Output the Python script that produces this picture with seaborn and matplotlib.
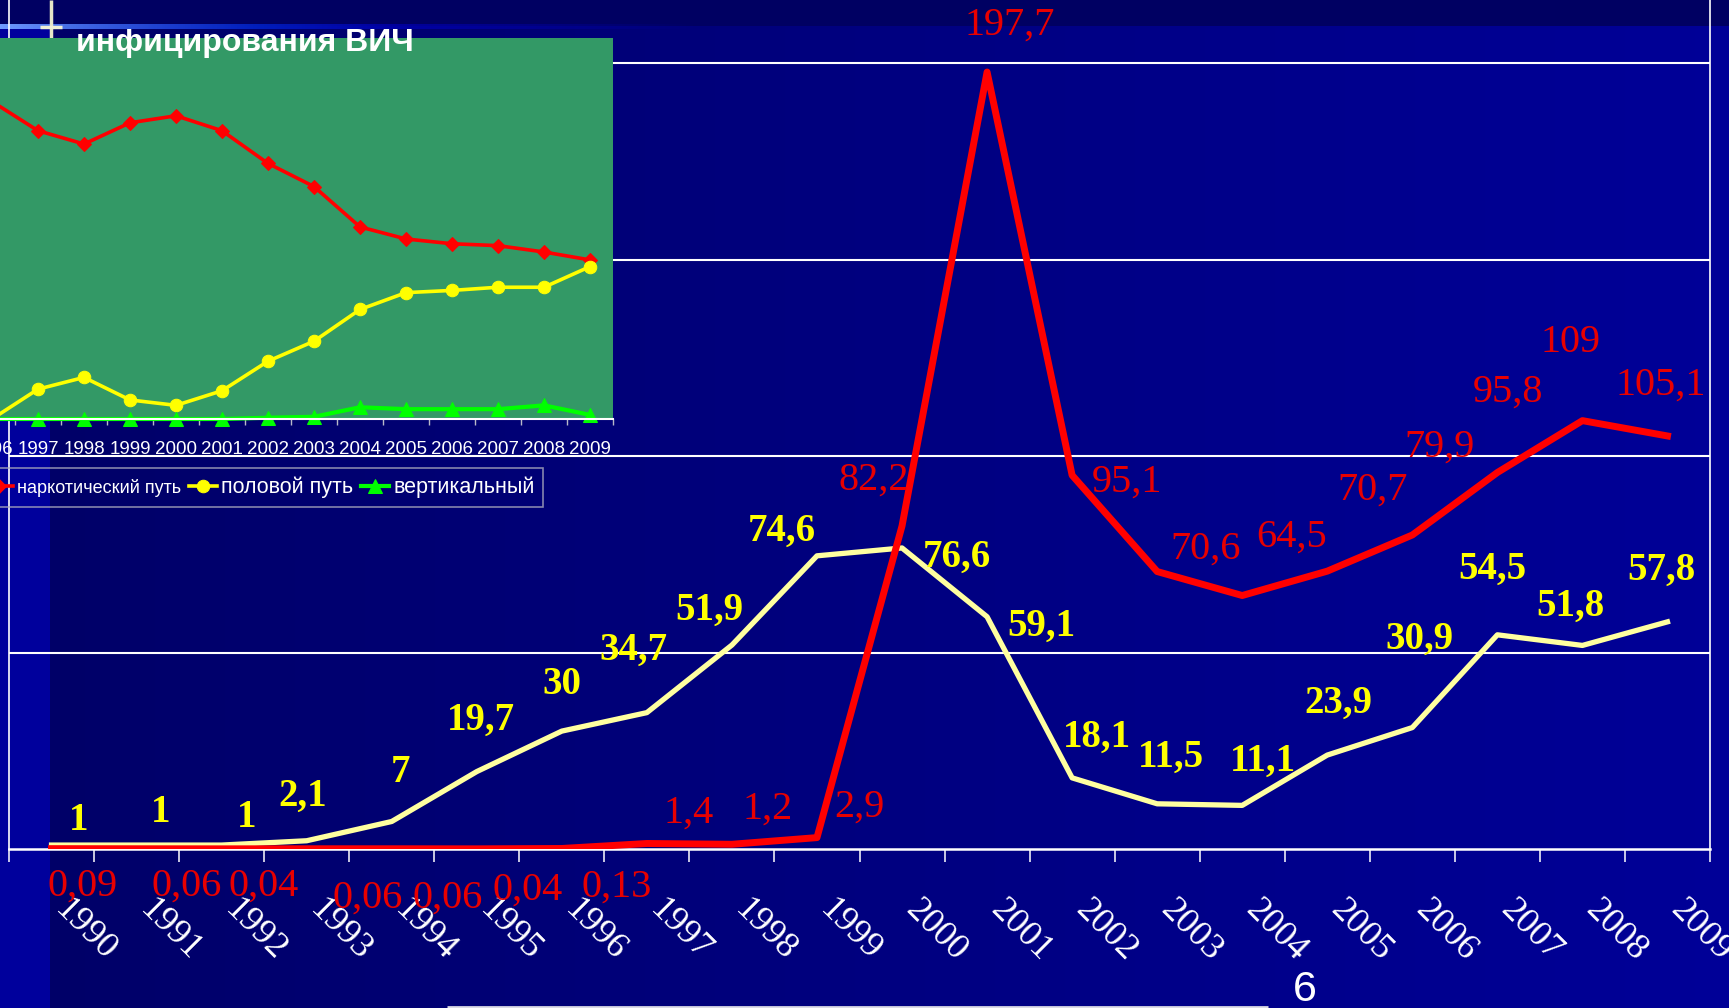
import numpy as np
import matplotlib
matplotlib.use("Agg")
import matplotlib.pyplot as plt
import seaborn as sns
from matplotlib.patches import Rectangle
from matplotlib.transforms import ScaledTranslation

# ---- main chart: incidence per 100 000 by route of transmission ----
years = [str(y) for y in range(1990, 2010)]
drug_rate = [0.09, 0.06, 0.04, 0.06, 0.06, 0.04, 0.13, 1.4, 1.2, 2.9,
             82.2, 197.7, 95.1, 70.6, 64.5, 70.7, 79.9, 95.8, 109, 105.1]
sexual_rate = [1, 1, 1, 2.1, 7, 19.7, 30, 34.7, 51.9, 74.6,
               76.6, 59.1, 18.1, 11.5, 11.1, 23.9, 30.9, 54.5, 51.8, 57.8]

# ---- inset: share of each route, % ----
share_years = [str(y) for y in range(1996, 2010)]
share_drug = [100, 90.8, 86.6, 93.3, 95.5, 90.8, 80.5, 73.2, 60.5, 56.7, 55.2, 54.6, 52.6, 50.1]
share_sexual = [0, 9.4, 13.1, 6.0, 4.3, 8.9, 18.2, 24.5, 34.5, 39.8, 40.5, 41.5, 41.5, 48.0]
share_vertical = [0, 0, 0, 0, 0, 0, 0.4, 0.7, 3.7, 3.1, 3.1, 3.1, 4.3, 1.3]
legend_labels = ["наркотический путь", "половой путь", "вертикальный"]

title_text = "инфицирования ВИЧ"
page_number = "6"

# label offsets in pixels (dx to the right, dy downward)
drug_offsets = [(31, 37), (50, 37), (42, 37), (61, 49), (56, 49), (51, 41), (55, 39),
                (42, -30), (36, -35), (42, -30), (-28, -46), (23, -47), (55, 7),
                (48, -22), (49, -58), (45, -81), (27, -88), (11, -80), (-12, -78), (-7, -51)]
sexual_offsets = [(27, -25), (24, -33), (25, -28), (-4, -44), (9, -49), (4, -51), (0, -47),
                  (-13, -62), (-23, -35), (-35, -24), (55, 9), (54, 10), (25, -41),
                  (14, -46), (21, -44), (11, -52), (7, -88), (-5, -65), (-12, -39), (-6, -52)]

W, H, DPI = 1729, 1008, 100
fig = plt.figure(figsize=(W / DPI, H / DPI), dpi=DPI)


def fx(px):
    return px / W


def fy(py):
    return 1 - py / H


def fmt(v):
    return f"{v:g}".replace(".", ",")


# ---- slide background ----
ax_bg = fig.add_axes([0, 0, 1, 1], zorder=-10)
ax_bg.set_xlim(0, W)
ax_bg.set_ylim(H, 0)
ax_bg.axis("off")
cols = np.arange(W)
blue = np.clip(104 + (cols - 50) / (W - 50) * 48, 104, 152) / 255
blue[cols < 50] = 156 / 255
grad = np.zeros((2, W, 3))
grad[..., 2] = blue
ax_bg.imshow(grad, extent=[0, W, H, 0], aspect="auto", interpolation="nearest", zorder=0)
ax_bg.add_patch(Rectangle((0, 0), W, 26, color=(0, 0, 98 / 255), zorder=1, lw=0))
# glowing horizontal stripe under the header
strip = np.zeros((1, 700, 4))
t = np.linspace(0, 1, 700)
strip[0, :, 0] = np.clip(0.45 - t * 1.2, 0, 1)
strip[0, :, 1] = np.clip(0.62 - t * 1.1, 0, 1)
strip[0, :, 2] = 1.0
strip[0, :, 3] = np.clip(1.0 - t ** 0.8, 0, 1)
ax_bg.imshow(strip, extent=[0, 700, 29, 24], aspect="auto", interpolation="bilinear", zorder=2)
ax_bg.plot([51, 51], [0, 38], color="#E6E6C8", lw=2.5, zorder=3, solid_capstyle="butt")
ax_bg.plot([40, 62], [26.5, 26.5], color="#F0F0D6", lw=2.5, zorder=3, solid_capstyle="butt")
ax_bg.plot([447, 1268], [1006.5, 1006.5], color="#DADAE6", lw=2, zorder=3, solid_capstyle="butt")

# ---- main axes ----
ax = fig.add_axes([fx(9), fy(849), fx(1710 - 9), 849 / H], zorder=1)
ax.set_facecolor("none")
pos = np.arange(len(years))
sns.lineplot(x=pos, y=sexual_rate, ax=ax, color="#FFFFA0", lw=3.8, errorbar=None,
             sort=False, zorder=3)
sns.lineplot(x=pos, y=drug_rate, ax=ax, color="#FF0000", lw=5, errorbar=None,
             sort=False, zorder=4)
ax.set_xlim(-0.5, len(years) - 0.5)
ax.set_ylim(0, 849 / 3.93)
ax.set_yticks([50, 100, 150, 200])
ax.yaxis.grid(True, color="white", lw=1.5)
ax.xaxis.grid(False)
ax.tick_params(axis="y", length=0, labelleft=False)
ax.set_xlabel("")
ax.set_ylabel("")
ax.spines["top"].set_visible(False)
for side in ["left", "right"]:
    ax.spines[side].set_color("white")
    ax.spines[side].set_linewidth(1.2)
ax.spines["bottom"].set_color("white")
ax.spines["bottom"].set_linewidth(1.8)

ax.set_xticks(pos)
ax.set_xticklabels(years)
ax.set_xticks(np.arange(len(years) + 1) - 0.5, minor=True)
ax.tick_params(axis="x", which="major", length=0, pad=40)
ax.tick_params(axis="x", which="minor", length=9.4, width=1.1, color="white", direction="out")
shift = ScaledTranslation(8 / DPI, 0, fig.dpi_scale_trans)
for lbl in ax.get_xticklabels():
    lbl.set_rotation(-45)
    lbl.set_rotation_mode("anchor")
    lbl.set_ha("left")
    lbl.set_va("center")
    lbl.set_fontsize(26)
    lbl.set_family("Liberation Serif")
    lbl.set_color("white")
    lbl.set_transform(lbl.get_transform() + shift)

for i, v in enumerate(sexual_rate):
    dx, dy = sexual_offsets[i]
    ax.annotate(fmt(v), (i, v), xytext=(dx, -dy), textcoords="offset pixels",
                ha="center", va="center", fontsize=28, fontweight="bold",
                family="Liberation Serif", color="#FFFF00", zorder=6,
                annotation_clip=False)
for i, v in enumerate(drug_rate):
    dx, dy = drug_offsets[i]
    ax.annotate(fmt(v), (i, v), xytext=(dx, -dy), textcoords="offset pixels",
                ha="center", va="center", fontsize=29,
                family="Liberation Serif", color="#E80000", zorder=6,
                annotation_clip=False)

# ---- inset: structure of transmission routes ----
ax_in = fig.add_axes([fx(-31), fy(419), 644 / W, 381 / H], zorder=5)
ax_in.set_facecolor("#339966")
ipos = np.arange(len(share_years))
sns.lineplot(x=ipos, y=share_drug, ax=ax_in, color="#FF0000", lw=2.6, marker="D",
             markersize=7.5, markeredgecolor="#FF0000", errorbar=None, sort=False,
             label=legend_labels[0], clip_on=False)
sns.lineplot(x=ipos, y=share_sexual, ax=ax_in, color="#FFFF00", lw=2.6, marker="o",
             markersize=9, markeredgecolor="#FFFF00", errorbar=None, sort=False,
             label=legend_labels[1], clip_on=False)
sns.lineplot(x=ipos, y=share_vertical, ax=ax_in, color="#00FF00", lw=3, marker="^",
             markersize=9.5, markeredgecolor="#00FF00", errorbar=None, sort=False,
             label=legend_labels[2], clip_on=False)
ax_in.set_xlim(-0.5, len(share_years) - 0.5)
ax_in.set_ylim(0, 120)
ax_in.set_xlabel("")
ax_in.set_ylabel("")
ax_in.grid(False)
for side in ["top", "left", "right"]:
    ax_in.spines[side].set_visible(False)
ax_in.spines["bottom"].set_color("white")
ax_in.spines["bottom"].set_linewidth(1.5)
ax_in.set_yticks([])
ax_in.set_xticks(ipos)
ax_in.set_xticklabels(share_years)
ax_in.set_xticks(np.arange(len(share_years) + 1) - 0.5, minor=True)
ax_in.tick_params(axis="x", which="major", length=0, pad=16, labelsize=13.5,
                  labelcolor="white")
ax_in.tick_params(axis="x", which="minor", length=4, width=1, color="#B8B8C8")
for lbl in ax_in.get_xticklabels():
    lbl.set_family("Liberation Sans")

leg = ax_in.legend(loc="center right", bbox_to_anchor=(fx(543), fy(487.5)),
                   bbox_transform=fig.transFigure, ncol=3, frameon=True, fancybox=False,
                   handlelength=1.3, handletextpad=0.2, columnspacing=0.35,
                   borderpad=0.4, borderaxespad=0, numpoints=1,
                   prop={"family": "Liberation Sans", "size": 15.5})
leg.get_frame().set_facecolor("none")
leg.get_frame().set_edgecolor("#A8A8BC")
leg.get_frame().set_linewidth(1.2)
for txt in leg.get_texts():
    txt.set_color("white")
leg.get_texts()[0].set_fontsize(13)

# ---- slide texts ----
fig.text(fx(76), fy(51), title_text, fontsize=23, fontweight="bold", color="white",
         family="Liberation Sans", va="baseline", ha="left", zorder=10)
fig.text(fx(1305), fy(1001), page_number, fontsize=31, color="white",
         family="Liberation Sans", va="baseline", ha="center", zorder=10)

fig.savefig("out.png", dpi=DPI)
